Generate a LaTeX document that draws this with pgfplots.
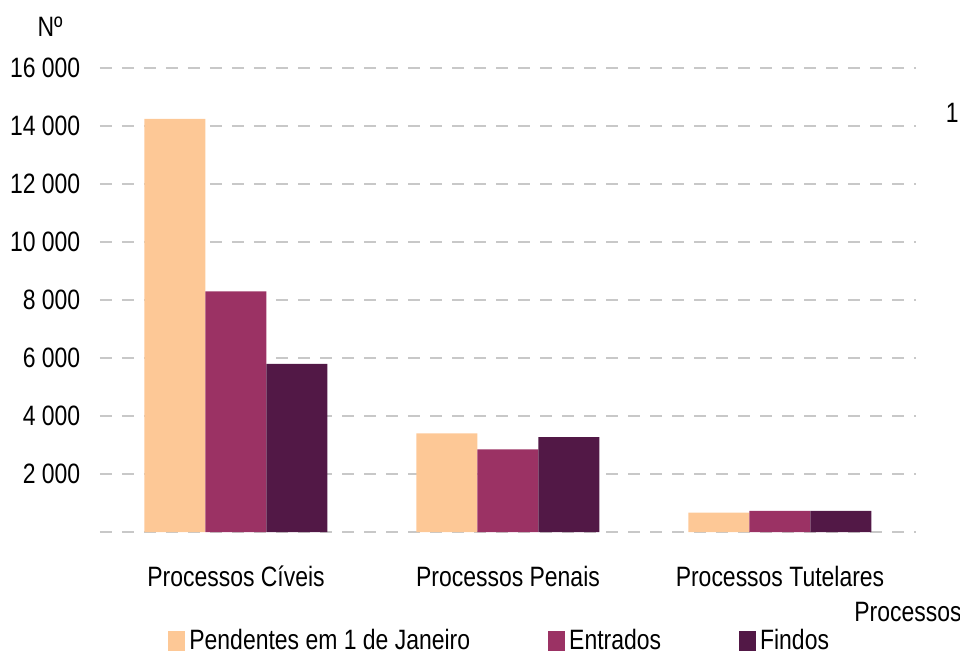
\documentclass[border=0pt]{standalone}
\usepackage{fontspec}
\setmainfont{Liberation Sans}[FakeStretch=0.82]
\usepackage{pgfplots}
\pgfplotsset{compat=1.18}
\definecolor{pend}{RGB}{253,200,150}
\definecolor{entr}{RGB}{155,50,100}
\definecolor{find}{RGB}{82,24,70}
\definecolor{gridc}{RGB}{200,200,200}

\begin{document}
\fontsize{14}{17}\selectfont
\begin{tikzpicture}
\begin{axis}[
  name=ax, at={(0,0)}, anchor=south west,
  scale only axis, width=408pt, height=232pt,
  xmin=-0.5, xmax=2.5, ymin=0, ymax=16000,
  axis line style={draw=none},
  major tick length=0pt,
  scaled y ticks=false,
  ybar=0pt, bar width=30.5pt,
  every axis plot post/.append style={
    legend image code/.code={\fill[##1] (0pt,-5pt) rectangle (8.5pt,5pt);}},
  xtick={0,1,2},
  xticklabels={Processos Cíveis, Processos Penais, Processos Tutelares},
  xticklabel style={yshift=-12pt},
  ytick={0,2000,...,16000},
  yticklabels={,2 000,4 000,6 000,8 000,10 000,12 000,14 000,16 000},
  yticklabel style={anchor=east, xshift=-5pt},
  ymajorgrids,
  grid style={gridc, line width=1pt, dash pattern=on 6pt off 5pt},
  legend columns=3,
  legend style={at={(0,0)}, anchor=west, xshift=34pt, yshift=-54.5pt,
    draw=none, fill=none, inner sep=0pt,
    nodes={inner xsep=2pt},
    /tikz/every even column/.append style={column sep=37pt}},
]
\addplot[fill=pend, draw=none] coordinates {(0,14250) (1,3400) (2,670)};
\addplot[fill=entr, draw=none] coordinates {(0,8300) (1,2850) (2,730)};
\addplot[fill=find, draw=none] coordinates {(0,5800) (1,3270) (2,730)};
\legend{Pendentes em 1 de Janeiro, Entrados, Findos}
\end{axis}
\node at ([xshift=-25pt,yshift=252.5pt]ax.south west) {Nº};
\node at ([xshift=404pt,yshift=-40pt]ax.south west) {Processos};
\node[anchor=east, inner sep=0pt] at ([xshift=429.5pt,yshift=209.5pt]ax.south west) {1};
\pgfresetboundingbox
\useasboundingbox ([xshift=-50pt,yshift=-61pt]ax.south west) rectangle ([xshift=430pt,yshift=266pt]ax.south west);
\end{tikzpicture}
\end{document}
